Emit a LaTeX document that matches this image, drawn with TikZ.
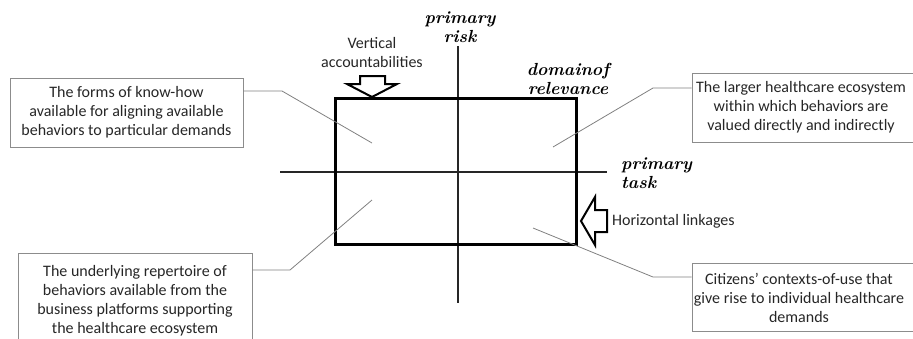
\documentclass[tikz,border=0pt]{standalone}
\usepackage{fontspec}
\newfontfamily\bodyfont{Carlito}
\begin{document}
\begin{tikzpicture}[x=1pt,y=-1pt,
  box/.style={draw=black!45, line width=0.9pt, inner sep=0pt},
  txt/.style={font=\bodyfont\fontsize{16}{19}\selectfont, align=center, text=black!85, inner sep=0pt},
  hand/.style={font=\fontsize{17.5}{18.5}\selectfont\bfseries\itshape, align=center, inner sep=0pt},
  conn/.style={draw=black!50, line width=0.8pt},
  axis/.style={draw=black!85, line width=1.2pt},
  blockarrow/.style={draw=black, line width=2pt, fill=white, line join=miter}]
\useasboundingbox (0,0) rectangle (913,338);
% axes
\coordinate (vtop) at (458,46);
\coordinate (vbot) at (458,303);
\coordinate (hleft) at (280,172);
\coordinate (hright) at (607,172);
\draw[axis] (vtop) -- (vbot);
\draw[axis] (hleft) -- (hright);
% domain rectangle
\node[draw=black, line width=3pt, minimum width=241, minimum height=146, inner sep=0pt] (dom) at (455.5,171) {};
% axis labels
\node[hand] (risk) at (460,27) {primary\\risk};
\node[hand] (domain) at (568,79) {domainof\\relevance};
\node[hand, align=left, anchor=west] (task) at (621,173) {primary\\task};
% vertical accountabilities
\node[txt] (vert) at (372,52.5) {Vertical\\accountabilities};
\draw[blockarrow] (360,76) -- (385,76) -- (385,84) -- (397,84) -- (372,97) -- (347,84) -- (360,84) -- cycle;
% horizontal linkages
\draw[blockarrow] (607,210) -- (595,210) -- (595,197) -- (581,221) -- (595,245) -- (595,232) -- (607,232) -- cycle;
\node[txt, anchor=west] (horiz) at (612,221) {Horizontal linkages};
% boxes
\node[box, minimum width=233, minimum height=69] (b1) at (126.5,112.5) {};
\node[txt] (t1) at (126.5,112.5) {The forms of know-how\\available for aligning available\\behaviors to particular demands};
\node[box, minimum width=230, minimum height=69] (b2) at (807,107.5) {};
\node[txt] (t2) at (801,107.5) {The larger healthcare ecosystem\\within which behaviors are\\valued directly and indirectly};
\node[box, minimum width=234, minimum height=110] (b3) at (135,308) {};
\node[txt] (t3) at (135,301) {The underlying repertoire of\\behaviors available from the\\business platforms supporting\\the healthcare ecosystem};
\node[box, minimum width=230, minimum height=68] (b4) at (807,297) {};
\node[txt] (t4) at (799,297.5) {Citizens’ contexts-of-use that\\give rise to individual healthcare\\demands};
% connectors
\coordinate (e1) at (282,91);  \coordinate (q1) at (372,143);
\coordinate (e2) at (653,88);  \coordinate (q2) at (553,147);
\coordinate (e3) at (290,270); \coordinate (q3) at (372,200);
\coordinate (e4) at (653,277); \coordinate (q4) at (533,228);
\draw[conn] (b1.east |- e1) -- (e1) -- (q1);
\draw[conn] (b2.west |- e2) -- (e2) -- (q2);
\draw[conn] (b3.east |- e3) -- (e3) -- (q3);
\draw[conn] (b4.west |- e4) -- (e4) -- (q4);
\end{tikzpicture}
\end{document}
